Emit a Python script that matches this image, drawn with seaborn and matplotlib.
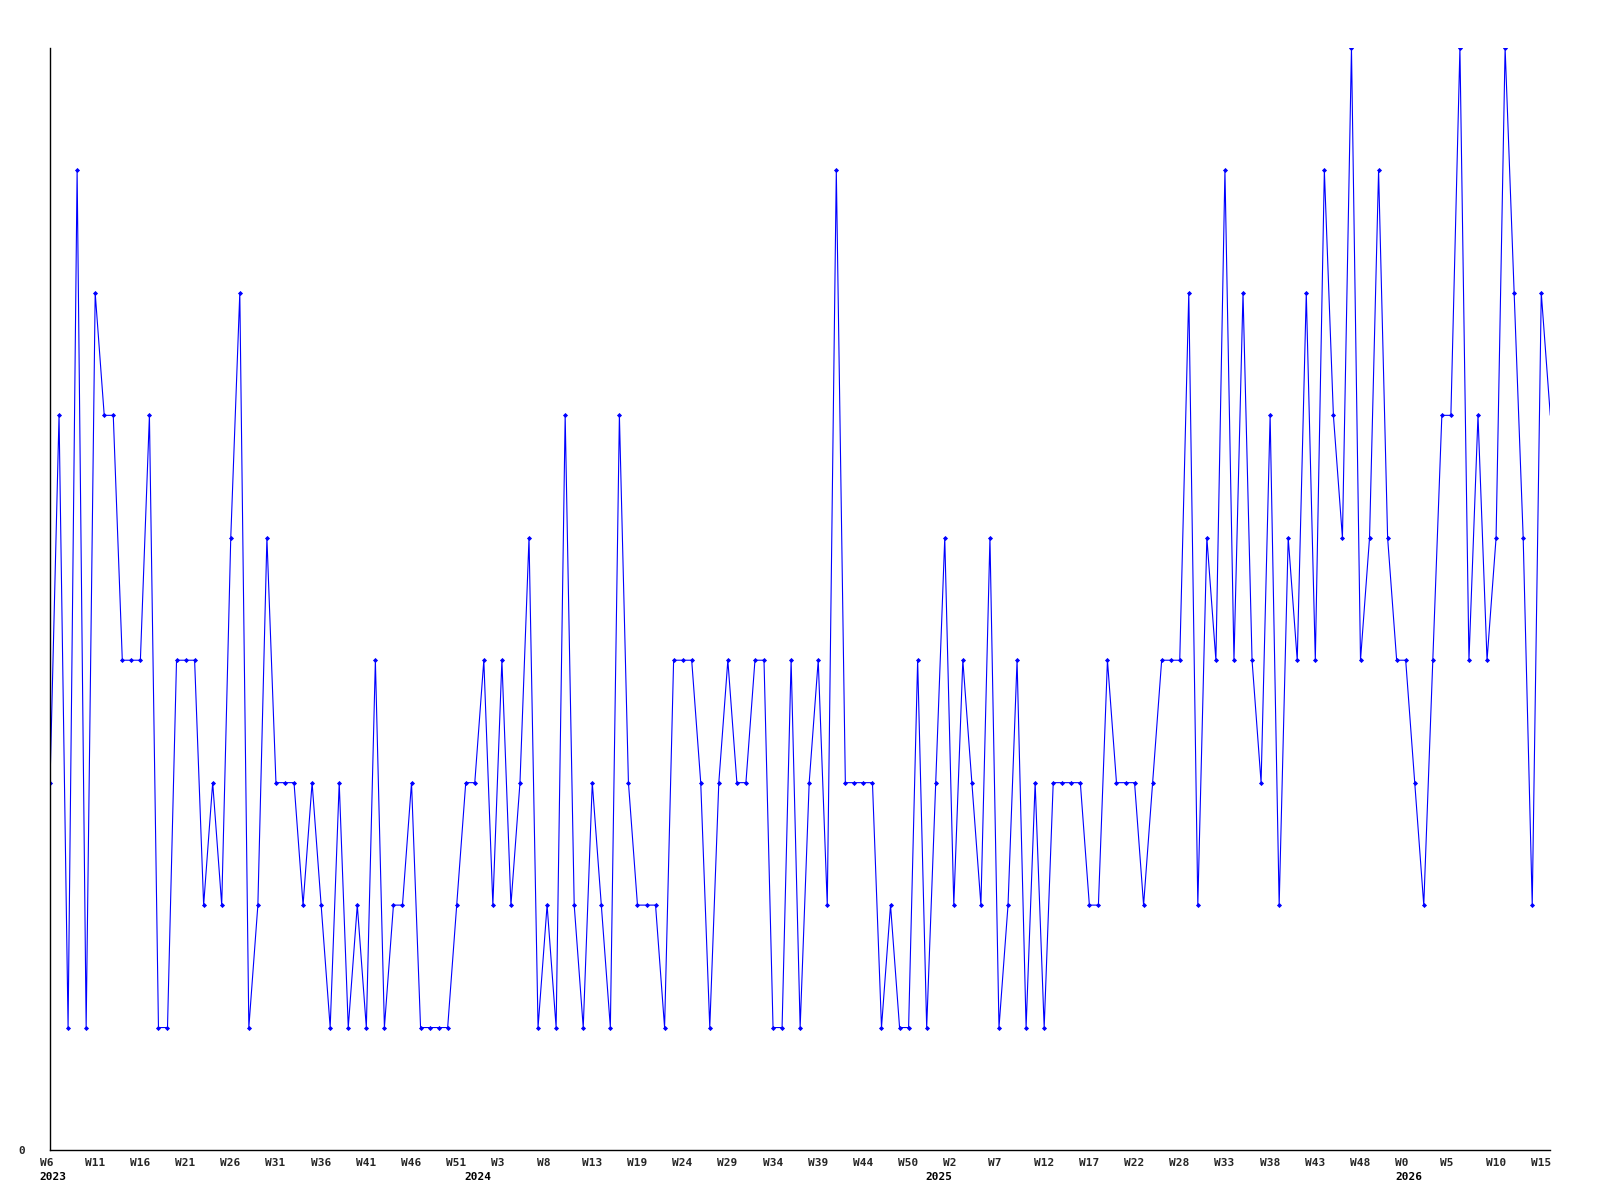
import numpy as np
import pandas as pd
import matplotlib
matplotlib.use("Agg")
import matplotlib.pyplot as plt
import matplotlib.transforms as mtransforms
import seaborn as sns

# ---------------------------------------------------------
# Data (weekly counts)
# ---------------------------------------------------------

counts = [
    3, 6, 1, 8, 1, 7, 6, 6, 4, 4, 4, 6, 1, 1, 4, 4, 4, 2, 3, 2, 5, 7,
    1, 2, 5, 3, 3, 3, 2, 3, 2, 1, 3, 1, 2, 1, 4, 1, 2, 2, 3, 1, 1,
    1, 1, 2, 3, 3, 4, 2, 4, 2, 3, 5, 1, 2, 1, 6, 2, 1, 3, 2, 1, 6,
    3, 2, 2, 2, 1, 4, 4, 4, 3, 1, 3, 4, 3, 3, 4, 4, 1, 1, 4, 1, 3,
    4, 2, 8, 3, 3, 3, 3, 1, 2, 1, 1, 4, 1, 3, 5, 2, 4, 3, 2, 5, 1,
    2, 4, 1, 3, 1, 3, 3, 3, 3, 2, 2, 4, 3, 3, 3, 2, 3, 4, 4, 4, 7,
    2, 5, 4, 8, 4, 7, 4, 3, 6, 2, 5, 4, 7, 4, 8, 6, 5, 9, 4, 5, 8,
    5, 4, 4, 3, 2, 4, 6, 6, 9, 4, 6, 4, 5, 9, 7, 5, 2, 7, 6,
]

week_labels = [
    "W6", "W11", "W16", "W21", "W26", "W31", "W36", "W41", "W46", "W51",
    "W3", "W8", "W13", "W19", "W24", "W29", "W34", "W39", "W44", "W50",
    "W2", "W7", "W12", "W17", "W22", "W28", "W33", "W38", "W43", "W48",
    "W0", "W5", "W10", "W15",
]
LABEL_STEP = 5  # one week label every 5 points

years = ["2023", "2024", "2025", "2026"]
year_start_idx = [0, 47, 98, 150]

df = pd.DataFrame({"idx": np.arange(len(counts)), "count": counts})

# ---------------------------------------------------------
# Plot
# ---------------------------------------------------------

sns.set_style("white")
plt.rcParams["font.family"] = ["DejaVu Sans Mono", "DejaVu Sans"]
plt.rcParams["font.weight"] = "bold"

fig = plt.figure(figsize=(16, 12), dpi=100)
ax = fig.add_axes([50 / 1600, 50 / 1200, 1500.3 / 1600, 1102 / 1200])

sns.lineplot(
    data=df, x="idx", y="count", ax=ax,
    color="#0000ff", linewidth=0.8,
    marker="D", markersize=2.6, markeredgewidth=0,
    markevery=list(range(len(counts) - 1)),
)

ax.set_xlim(0, len(counts) - 1)
ax.set_ylim(0, 9)

for side in ["top", "right"]:
    ax.spines[side].set_visible(False)
for side in ["left", "bottom"]:
    ax.spines[side].set_color("black")
    ax.spines[side].set_linewidth(1.0)

ax.set_xlabel("")
ax.set_ylabel("")

# y axis: only the zero label
ax.set_yticks([0])
ax.set_yticklabels(["0"], fontsize=8, fontweight="bold")
ax.tick_params(axis="y", length=0, pad=18)

# x axis: week labels, left aligned a little before each point
tick_pos = [i * LABEL_STEP for i in range(len(week_labels))]
ax.set_xticks(tick_pos)
ax.set_xticklabels(week_labels, fontsize=8, fontweight="bold", ha="left")
ax.tick_params(axis="x", length=0, pad=6)
shift = mtransforms.ScaledTranslation(-10.5 / 100, 0, fig.dpi_scale_trans)
for lab in ax.get_xticklabels():
    lab.set_transform(lab.get_transform() + shift)

# year labels under the week labels
blend = mtransforms.blended_transform_factory(ax.transData, ax.transAxes)
for yr, i in zip(years, year_start_idx):
    ax.text(i, 0, yr, transform=blend + mtransforms.ScaledTranslation(-10.5 / 100, -22 / 100, fig.dpi_scale_trans),
            ha="left", va="top", fontsize=8, fontweight="bold", color="black")

fig.savefig("out.png", dpi=100, facecolor="white")
